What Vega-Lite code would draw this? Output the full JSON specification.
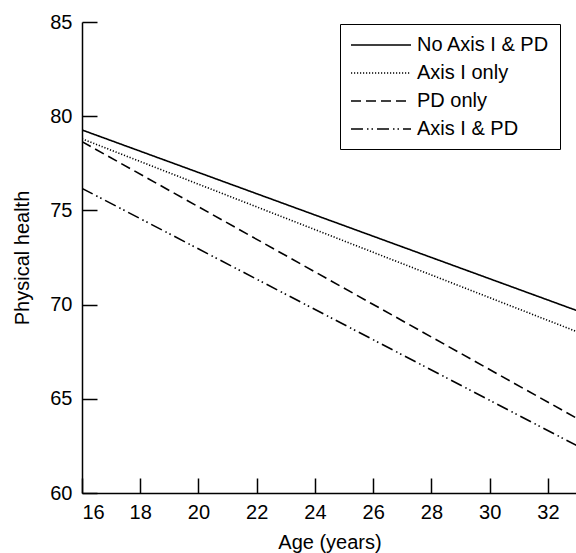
{
  "$schema": "https://vega.github.io/schema/vega-lite/v6.json",
  "autosize": {"type": "none"},
  "padding": {"left": 82, "top": 22, "right": 0, "bottom": 60},
  "width": 495,
  "height": 471,
  "background": "white",
  "config": {
    "view": {"stroke": null},
    "font": "Liberation Sans",
    "axis": {
      "grid": false,
      "domainColor": "black",
      "domainWidth": 1.5,
      "labelFont": "Liberation Sans",
      "labelFontSize": 20,
      "labelColor": "black",
      "titleFont": "Liberation Sans",
      "titleFontSize": 20,
      "titleFontWeight": "normal",
      "titleColor": "black"
    },
    "legend": {
      "labelFont": "Liberation Sans",
      "labelFontSize": 20,
      "labelColor": "black"
    }
  },
  "data": {
    "values": [
      {"age": 16, "health": 79.27, "group": "No Axis I & PD"},
      {"age": 33, "health": 69.68, "group": "No Axis I & PD"},
      {"age": 16, "health": 78.8, "group": "Axis I only"},
      {"age": 33, "health": 68.56, "group": "Axis I only"},
      {"age": 16, "health": 78.65, "group": "PD only"},
      {"age": 33, "health": 63.96, "group": "PD only"},
      {"age": 16, "health": 76.17, "group": "Axis I & PD"},
      {"age": 33, "health": 62.51, "group": "Axis I & PD"}
    ]
  },
  "resolve": {"axis": {"y": "independent"}},
  "layer": [
    {
      "mark": {"type": "line", "color": "black", "strokeWidth": 1.6, "clip": true},
      "encoding": {
        "x": {
          "field": "age",
          "type": "quantitative",
          "scale": {"domain": [16, 33], "nice": false, "zero": false},
          "axis": {
            "title": "Age (years)",
            "values": [16, 18, 20, 22, 24, 26, 28, 30, 32],
            "ticks": true,
            "tickSize": -15,
            "tickColor": "black",
            "tickWidth": 1.5,
            "labelPadding": 24,
            "titlePadding": 10
          }
        },
        "y": {
          "field": "health",
          "type": "quantitative",
          "scale": {"domain": [60, 85], "nice": false, "zero": false},
          "axis": {
            "orient": "left",
            "title": "Physical health",
            "values": [60, 65, 70, 75, 80, 85],
            "ticks": false,
            "labelPadding": 10,
            "titlePadding": 17
          }
        },
        "strokeDash": {
          "field": "group",
          "type": "nominal",
          "scale": {
            "domain": ["No Axis I & PD", "Axis I only", "PD only", "Axis I & PD"],
            "range": [[1, 0], [1.2, 1.8], [10, 5], [12, 4, 1.5, 3, 1.5, 4]]
          },
          "legend": {
            "title": null,
            "orient": "none",
            "legendX": 258,
            "legendY": 2,
            "strokeColor": "black",
            "padding": 10,
            "rowPadding": 7,
            "symbolType": "M-1,0H5",
            "symbolSize": 400,
            "symbolStrokeWidth": 1.5,
            "symbolStrokeColor": "black",
            "labelOffset": 45
          }
        }
      }
    },
    {
      "mark": {"type": "line", "color": "black", "strokeOpacity": 0, "clip": true},
      "encoding": {
        "x": {"field": "age", "type": "quantitative"},
        "y": {
          "field": "health",
          "type": "quantitative",
          "axis": {
            "orient": "right",
            "offset": -495,
            "title": null,
            "labels": false,
            "domain": false,
            "values": [60, 65, 70, 75, 80, 85],
            "ticks": true,
            "tickSize": 15,
            "tickColor": "black",
            "tickWidth": 1.5
          }
        },
        "detail": {"field": "group", "type": "nominal"}
      }
    }
  ]
}
